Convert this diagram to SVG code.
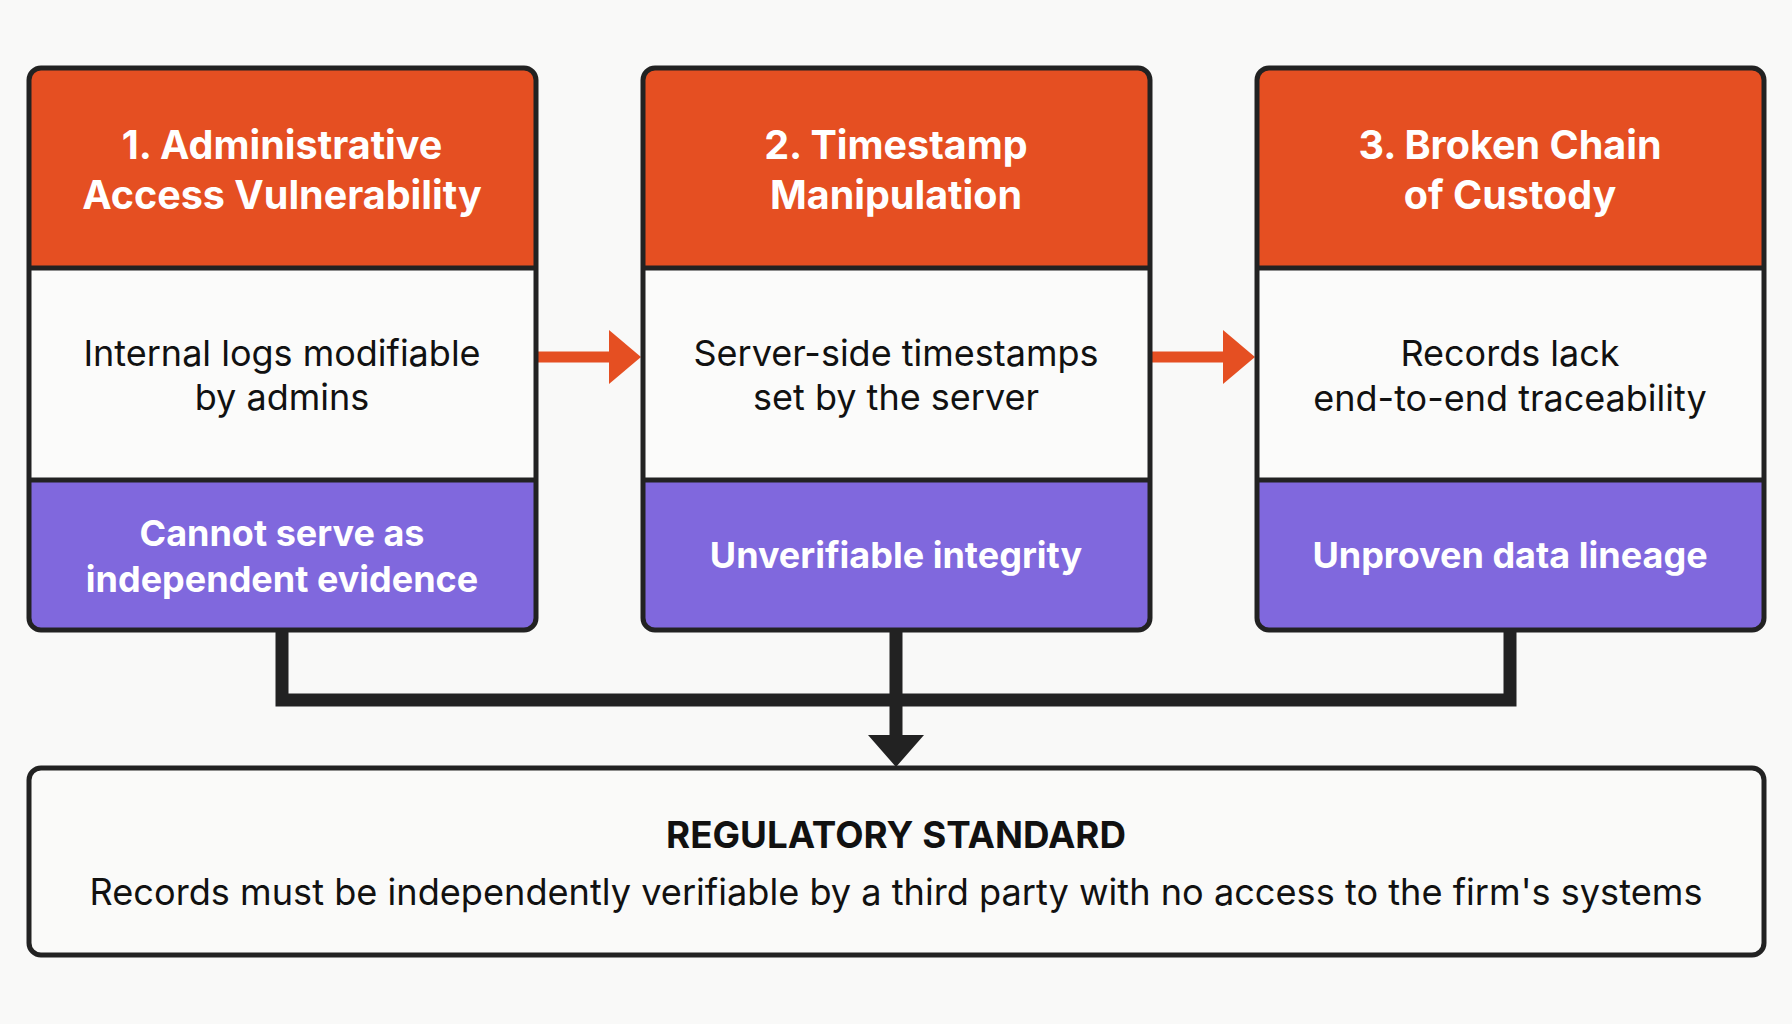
<svg xmlns="http://www.w3.org/2000/svg" width="1792" height="1024" viewBox="0 0 1792 1024">
<defs>
<style>
.bg{fill:#F9F9F8}
.hdr{fill:#E54F22}
.mid{fill:#FBFBFA}
.pur{fill:#8068DD}
.frame{fill:none;stroke:#222;stroke-width:5}
.div{stroke:#222;stroke-width:5}
.ht{font-family:Inter,"Noto Sans",sans-serif;font-weight:700;font-size:39.5px;fill:#FFFFFF;text-anchor:middle}
.bt{font-family:Inter,"Noto Sans",sans-serif;font-weight:400;font-size:36px;fill:#111;text-anchor:middle}
.pt{font-family:Inter,"Noto Sans",sans-serif;font-weight:700;font-size:36px;fill:#FFFFFF;text-anchor:middle}
.conn{fill:none;stroke:#222;stroke-width:13;stroke-linejoin:miter;stroke-linecap:butt}
.oarr{fill:none;stroke:#E54F22;stroke-width:11}
.st{font-family:Inter,"Noto Sans",sans-serif;font-weight:700;font-size:37px;fill:#111;text-anchor:middle}
.sb{font-family:Inter,"Noto Sans",sans-serif;font-weight:400;font-size:37px;fill:#111;text-anchor:middle}
</style>
<clipPath id="c1"><rect x="29" y="68" width="507" height="562" rx="12"/></clipPath>
<clipPath id="c2"><rect x="643" y="68" width="507" height="562" rx="12"/></clipPath>
<clipPath id="c3"><rect x="1257" y="68" width="507" height="562" rx="12"/></clipPath>
</defs>
<rect class="bg" x="0" y="0" width="1792" height="1024"/>

<g id="connectors">
<path class="conn" d="M282 630 V700 H1510 V630"/>
<path class="conn" d="M896 630 V737"/>
<polygon fill="#222" points="868,735 924,735 896,767"/>
<line class="oarr" x1="536" y1="357" x2="612" y2="357"/>
<polygon fill="#E54F22" points="609,330 641,357 609,384"/>
<line class="oarr" x1="1150" y1="357" x2="1226" y2="357"/>
<polygon fill="#E54F22" points="1223,330 1255,357 1223,384"/>
</g>

<g id="node1">
<g clip-path="url(#c1)">
<rect class="hdr" x="29" y="68" width="507" height="200"/>
<rect class="mid" x="29" y="268" width="507" height="212"/>
<rect class="pur" x="29" y="480" width="507" height="150"/>
</g>
<line class="div" x1="29" y1="268" x2="536" y2="268"/>
<line class="div" x1="29" y1="480" x2="536" y2="480"/>
<rect class="frame" x="29" y="68" width="507" height="562" rx="12"/>
<text class="ht" x="282" y="159">1. Administrative</text>
<text class="ht" x="282" y="209">Access Vulnerability</text>
<text class="bt" x="282" y="366">Internal logs modifiable</text>
<text class="bt" x="282" y="410">by admins</text>
<text class="pt" x="282" y="546">Cannot serve as</text>
<text class="pt" x="282" y="592">independent evidence</text>
</g>

<g id="node2">
<g clip-path="url(#c2)">
<rect class="hdr" x="643" y="68" width="507" height="200"/>
<rect class="mid" x="643" y="268" width="507" height="212"/>
<rect class="pur" x="643" y="480" width="507" height="150"/>
</g>
<line class="div" x1="643" y1="268" x2="1150" y2="268"/>
<line class="div" x1="643" y1="480" x2="1150" y2="480"/>
<rect class="frame" x="643" y="68" width="507" height="562" rx="12"/>
<text class="ht" x="896" y="159">2. Timestamp</text>
<text class="ht" x="896" y="209">Manipulation</text>
<text class="bt" x="896" y="366">Server-side timestamps</text>
<text class="bt" x="896" y="410">set by the server</text>
<text class="pt" x="896" y="568">Unverifiable integrity</text>
</g>

<g id="node3">
<g clip-path="url(#c3)">
<rect class="hdr" x="1257" y="68" width="507" height="200"/>
<rect class="mid" x="1257" y="268" width="507" height="212"/>
<rect class="pur" x="1257" y="480" width="507" height="150"/>
</g>
<line class="div" x1="1257" y1="268" x2="1764" y2="268"/>
<line class="div" x1="1257" y1="480" x2="1764" y2="480"/>
<rect class="frame" x="1257" y="68" width="507" height="562" rx="12"/>
<text class="ht" x="1510" y="159">3. Broken Chain</text>
<text class="ht" x="1510" y="209">of Custody</text>
<text class="bt" x="1510" y="366">Records lack</text>
<text class="bt" x="1510" y="411">end-to-end traceability</text>
<text class="pt" x="1510" y="568">Unproven data lineage</text>
</g>

<g id="standard">
<rect x="29" y="768" width="1735" height="187" rx="12" fill="#FAFAF9" stroke="#222" stroke-width="5"/>
<text class="st" x="896" y="848" textLength="460" lengthAdjust="spacingAndGlyphs">REGULATORY STANDARD</text>
<text class="sb" x="896" y="905" textLength="1613" lengthAdjust="spacingAndGlyphs">Records must be independently verifiable by a third party with no access to the firm's systems</text>
</g>
</svg>
